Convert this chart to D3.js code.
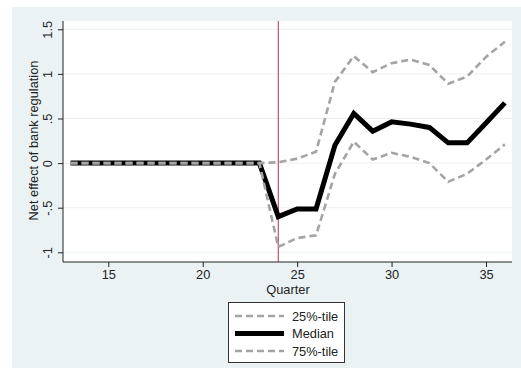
<!DOCTYPE html>
<html><head><meta charset="utf-8">
<script src="https://cdn.jsdelivr.net/npm/d3@7"></script>
<style>body{margin:0;background:#fff}svg{display:block}text{font-family:"Liberation Sans",Arial,sans-serif;fill:#222}</style>
</head><body><svg id="c" width="521" height="378"></svg>
<script>
const quarters = [13,14,15,16,17,18,19,20,21,22,23,24,25,26,27,28,29,30,31,32,33,34,35,36];
const p25 = [0,0,0,0,0,0,0,0,0,0,0,-0.94,-0.84,-0.81,-0.12,0.24,0.04,0.115,0.07,0.0,-0.21,-0.12,0.04,0.21];
const median = [0,0,0,0,0,0,0,0,0,0,0,-0.60,-0.515,-0.515,0.20,0.556,0.358,0.462,0.437,0.40,0.227,0.227,0.45,0.675];
const p75 = [0,0,0,0,0,0,0,0,0,0,0,0.01,0.05,0.127,0.91,1.20,1.02,1.12,1.16,1.10,0.89,0.97,1.19,1.36];
const xTicks = [15,20,25,30,35];
const yTicks = [-1,-0.5,0,0.5,1,1.5];
const yTickLabels = ["-1","-.5","0",".5","1","1.5"];
const eventQuarter = 24;
const legendLabels = ["25%-tile","Median","75%-tile"];

const FS = 12.8;
const svg = d3.select("#c");
svg.append("rect").attr("x",12).attr("y",7).attr("width",509).attr("height",361).attr("fill","#eaf2f3");
const L=63,R=512,T=21,B=262;
svg.append("rect").attr("x",L).attr("y",T).attr("width",R-L).attr("height",B-T).attr("fill","#fff");

const x = d3.scaleLinear().domain([15,35]).range([108.3,486]);
const y = d3.scaleLinear().domain([-1,1.5]).range([252.3,29.3]);

// gridlines
svg.append("g").selectAll("line").data(yTicks).join("line")
  .attr("x1",L).attr("x2",R).attr("y1",d=>y(d)).attr("y2",d=>y(d))
  .attr("stroke","#eaf0f2").attr("stroke-width",1);

// axes
const yAxis = d3.axisLeft(y).tickValues(yTicks).tickFormat((d,i)=>yTickLabels[i]).tickSize(5).tickSizeOuter(0);
const gy = svg.append("g").attr("transform",`translate(${L},0)`).call(yAxis);
gy.select(".domain").attr("d",`M0,${T}V${B}`).attr("stroke","#222");
gy.selectAll(".tick line").attr("stroke","#222");
gy.selectAll(".tick text").each(function(){
  d3.select(this).attr("x",null).attr("y",null).attr("dy",null)
   .attr("transform",`translate(-11,0) rotate(-90)`).attr("text-anchor","middle")
   .attr("font-size",FS).style("fill","#222");
});

const xAxis = d3.axisBottom(x).tickValues(xTicks).tickSize(5).tickSizeOuter(0);
const gx = svg.append("g").attr("transform",`translate(0,${B})`).call(xAxis);
gx.select(".domain").attr("d",`M${L},0H${R}`).attr("stroke","#222");
gx.selectAll(".tick line").attr("stroke","#222");
gx.selectAll(".tick text").attr("font-size",FS).attr("y",8).style("fill","#222");

svg.append("text").attr("x",(L+R)/2+0.5).attr("y",293.5).attr("text-anchor","middle").attr("font-size",FS).text("Quarter");
svg.append("text").attr("transform",`translate(37.5,${(T+B)/2-1}) rotate(-90)`).attr("text-anchor","middle").attr("font-size",FS).text("Net effect of bank regulation");

// event line
svg.append("line").attr("x1",x(eventQuarter)).attr("x2",x(eventQuarter)).attr("y1",T).attr("y2",B)
  .attr("stroke","#b0304e").attr("stroke-width",1);

const line = d3.line().x((d,i)=>x(quarters[i])).y(d=>y(d));
const dashStyle = {stroke:"#a4a4a4",w:2.6,dash:"7,4"};
svg.append("path").datum(median).attr("d",line).attr("fill","none").attr("stroke","#000").attr("stroke-width",5).attr("stroke-linejoin","miter");
[p25,p75].forEach(s=>{
  svg.append("path").datum(s).attr("d",line).attr("fill","none").attr("stroke",dashStyle.stroke)
    .attr("stroke-width",dashStyle.w).attr("stroke-dasharray",dashStyle.dash);
});

// legend
const lg = svg.append("g");
lg.append("rect").attr("x",228.5).attr("y",302.5).attr("width",116).attr("height",60).attr("fill","#fff").attr("stroke","#333").attr("stroke-width",1);
const rows=[316,333.5,351];
legendLabels.forEach((lab,i)=>{
  const isMed = lab==="Median";
  lg.append("line").attr("x1",235).attr("x2",284).attr("y1",rows[i]).attr("y2",rows[i])
    .attr("stroke",isMed?"#000":dashStyle.stroke).attr("stroke-width",isMed?5:dashStyle.w)
    .attr("stroke-dasharray",isMed?null:dashStyle.dash);
  lg.append("text").attr("x",292).attr("y",rows[i]+4.5).attr("font-size",FS).text(lab);
});
</script></body></html>
